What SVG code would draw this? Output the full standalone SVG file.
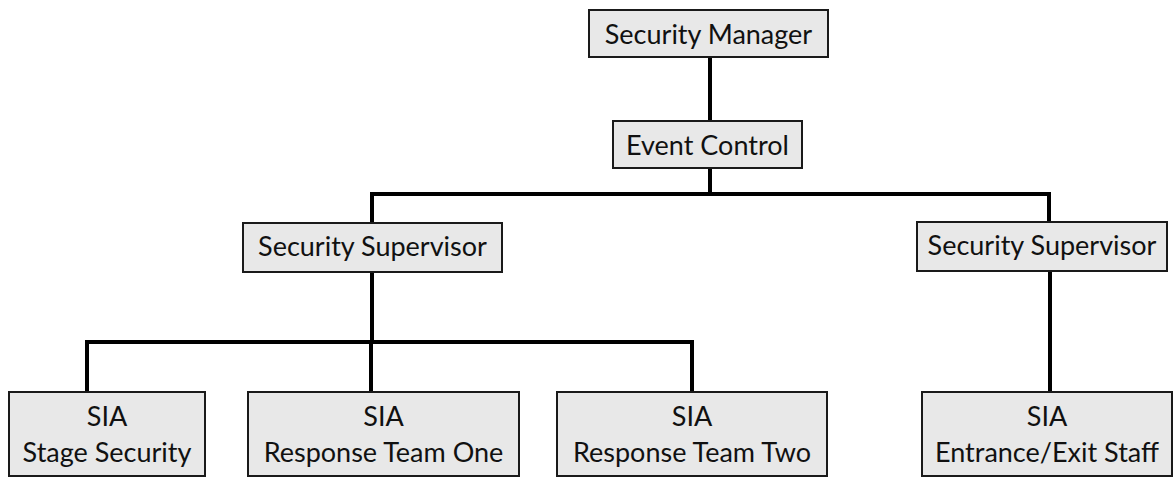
<svg xmlns="http://www.w3.org/2000/svg" width="1176" height="478" viewBox="0 0 1176 478">
<style>
.box{fill:#e8e8e8;stroke:#1a1a1a;stroke-width:2}
.t{font-family:Lato,"Liberation Sans",sans-serif;font-size:27px;fill:#111;text-anchor:middle}
.c{fill:none;stroke:#000;stroke-width:4;stroke-linejoin:miter;stroke-linecap:butt}
</style>
<rect width="1176" height="478" fill="#fff"/>
<g id="connectors">
<path class="c" d="M710,57V121"/>
<path class="c" d="M710,168V194M372,223V194H1049V222"/>
<path class="c" d="M372,272V342M87,392V342H692V392M371,342V392"/>
<path class="c" d="M1050,271V392"/>
</g>
<g id="security-manager"><rect class="box" x="589" y="10" width="239" height="47"/><text class="t" x="708.5" y="44">Security Manager</text></g>
<g id="event-control"><rect class="box" x="613" y="121" width="189" height="47"/><text class="t" x="707.5" y="155">Event Control</text></g>
<g id="supervisor-left"><rect class="box" x="243" y="223" width="259" height="49"/><text class="t" x="372.5" y="256">Security Supervisor</text></g>
<g id="supervisor-right"><rect class="box" x="917" y="222" width="250" height="49"/><text class="t" x="1042" y="255">Security Supervisor</text></g>
<g id="stage-security"><rect class="box" x="9" y="392" width="196" height="84"/><text class="t" x="107" y="426">SIA</text><text class="t" x="107" y="462">Stage Security</text></g>
<g id="response-one"><rect class="box" x="248" y="392" width="271" height="84"/><text class="t" x="383.5" y="426">SIA</text><text class="t" x="383.5" y="462">Response Team One</text></g>
<g id="response-two"><rect class="box" x="557" y="392" width="270" height="84"/><text class="t" x="692" y="426">SIA</text><text class="t" x="692" y="462">Response Team Two</text></g>
<g id="entrance-exit"><rect class="box" x="922" y="392" width="250" height="84"/><text class="t" x="1047" y="426">SIA</text><text class="t" x="1047" y="462">Entrance/Exit Staff</text></g>
</svg>
